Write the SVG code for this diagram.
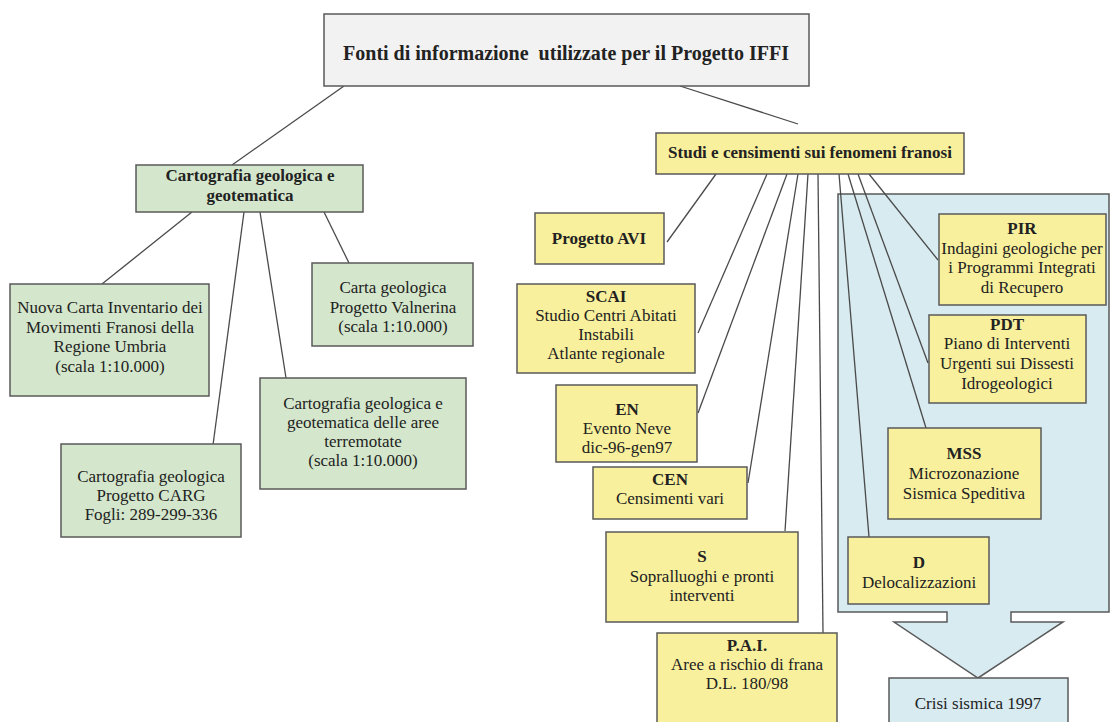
<svg xmlns="http://www.w3.org/2000/svg" width="1110" height="722" viewBox="0 0 1110 722">
<style>
  text { font-family: "Liberation Serif", "Times New Roman", serif; font-size: 17px; fill: #222; text-anchor: middle; }
  .b { font-weight: bold; }
  .t { font-size: 20px; font-weight: bold; }
  .g { fill: #d4e7cc; stroke: #5a5a5a; stroke-width: 1.5; }
  .y { fill: #f8f09c; stroke: #5a5a5a; stroke-width: 1.5; }
  .w { fill: #f2f2f2; stroke: #5a5a5a; stroke-width: 1.5; }
  .bl { fill: #d7ebf0; stroke: #5a5a5a; stroke-width: 1.5; }
  #connectors line { stroke: #4a4a4a; stroke-width: 1.3; }
</style>
<rect width="1110" height="722" fill="#ffffff"/>

<g id="crisi-region">
  <path class="bl" d="M838,194 H1109 V612 H1011 V622 H1063 L978,678 L894,622 H947 V612 H838 Z"/>
</g>

<g id="connectors">
  <line x1="344" y1="86" x2="232" y2="165"/>
  <line x1="680" y1="86" x2="798" y2="124"/>
  <line x1="192" y1="212" x2="102" y2="284"/>
  <line x1="244" y1="212" x2="213" y2="445"/>
  <line x1="260" y1="212" x2="286" y2="378"/>
  <line x1="324" y1="212" x2="349" y2="263"/>
  <line x1="716" y1="174" x2="667" y2="242"/>
  <line x1="767" y1="174" x2="698" y2="333"/>
  <line x1="787" y1="174" x2="698" y2="413"/>
  <line x1="798" y1="174" x2="748" y2="483"/>
  <line x1="808" y1="174" x2="785" y2="531"/>
  <line x1="818" y1="174" x2="823" y2="633"/>
  <line x1="839" y1="174" x2="869" y2="537"/>
  <line x1="848" y1="174" x2="926" y2="428"/>
  <line x1="858" y1="174" x2="928" y2="363"/>
  <line x1="869" y1="174" x2="938" y2="260"/>
</g>

<g id="title">
  <rect class="w" x="324" y="14" width="485" height="72"/>
  <text class="t" x="566" y="60" xml:space="preserve">Fonti di informazione  utilizzate per il Progetto IFFI</text>
</g>

<g id="cartografia">
  <rect class="g" x="136" y="165" width="227" height="47"/>
  <text class="b" x="250" y="181">Cartografia geologica e</text>
  <text class="b" x="250" y="201">geotematica</text>
</g>

<g id="nuova-carta">
  <rect class="g" x="10" y="284" width="199" height="112"/>
  <text x="110" y="313">Nuova Carta Inventario dei</text>
  <text x="110" y="333">Movimenti Franosi della</text>
  <text x="110" y="352">Regione Umbria</text>
  <text x="110" y="372">(scala 1:10.000)</text>
</g>

<g id="valnerina">
  <rect class="g" x="312" y="263" width="161" height="83"/>
  <text x="393" y="293">Carta geologica</text>
  <text x="393" y="313">Progetto Valnerina</text>
  <text x="393" y="332">(scala 1:10.000)</text>
</g>

<g id="terremotate">
  <rect class="g" x="260" y="378" width="206" height="111"/>
  <text x="363" y="409">Cartografia geologica e</text>
  <text x="363" y="428">geotematica delle aree</text>
  <text x="363" y="447">terremotate</text>
  <text x="363" y="466">(scala 1:10.000)</text>
</g>

<g id="carg">
  <rect class="g" x="61" y="444" width="180" height="93"/>
  <text x="151" y="482">Cartografia geologica</text>
  <text x="151" y="501">Progetto CARG</text>
  <text x="151" y="520">Fogli: 289-299-336</text>
</g>

<g id="studi">
  <rect class="y" x="656" y="133" width="308" height="41"/>
  <text class="b" x="810" y="158">Studi e censimenti sui fenomeni franosi</text>
</g>

<g id="avi">
  <rect class="y" x="535" y="213" width="129" height="51"/>
  <text class="b" x="599" y="244">Progetto AVI</text>
</g>

<g id="scai">
  <rect class="y" x="517" y="284" width="178" height="89"/>
  <text class="b" x="606" y="302">SCAI</text>
  <text x="606" y="321">Studio Centri Abitati</text>
  <text x="606" y="340">Instabili</text>
  <text x="606" y="359">Atlante regionale</text>
</g>

<g id="en">
  <rect class="y" x="556" y="385" width="141" height="77"/>
  <text class="b" x="627" y="415">EN</text>
  <text x="627" y="434">Evento Neve</text>
  <text x="627" y="453">dic-96-gen97</text>
</g>

<g id="cen">
  <rect class="y" x="593" y="467" width="154" height="52"/>
  <text class="b" x="670" y="485">CEN</text>
  <text x="670" y="504">Censimenti vari</text>
</g>

<g id="s">
  <rect class="y" x="606" y="532" width="192" height="90"/>
  <text class="b" x="702" y="562">S</text>
  <text x="702" y="582">Sopralluoghi e pronti</text>
  <text x="702" y="601">interventi</text>
</g>

<g id="pai">
  <rect class="y" x="657" y="633" width="180" height="100"/>
  <text class="b" x="747" y="651">P.A.I.</text>
  <text x="747" y="670">Aree a rischio di frana</text>
  <text x="747" y="689">D.L. 180/98</text>
</g>

<g id="pir">
  <rect class="y" x="939" y="214" width="167" height="91"/>
  <text class="b" x="1022" y="234">PIR</text>
  <text x="1022" y="254">Indagini geologiche per</text>
  <text x="1022" y="273">i Programmi Integrati</text>
  <text x="1022" y="293">di Recupero</text>
</g>

<g id="pdt">
  <rect class="y" x="929" y="315" width="157" height="88"/>
  <text class="b" x="1007" y="330">PDT</text>
  <text x="1007" y="349">Piano di Interventi</text>
  <text x="1007" y="369">Urgenti sui Dissesti</text>
  <text x="1007" y="389">Idrogeologici</text>
</g>

<g id="mss">
  <rect class="y" x="888" y="428" width="153" height="91"/>
  <text class="b" x="964" y="459">MSS</text>
  <text x="964" y="479">Microzonazione</text>
  <text x="964" y="499">Sismica Speditiva</text>
</g>

<g id="d">
  <rect class="y" x="848" y="537" width="141" height="67"/>
  <text class="b" x="919" y="568">D</text>
  <text x="919" y="588">Delocalizzazioni</text>
</g>

<g id="crisi">
  <rect class="bl" x="889" y="678" width="179" height="50"/>
  <text x="978" y="709">Crisi sismica 1997</text>
</g>
</svg>
